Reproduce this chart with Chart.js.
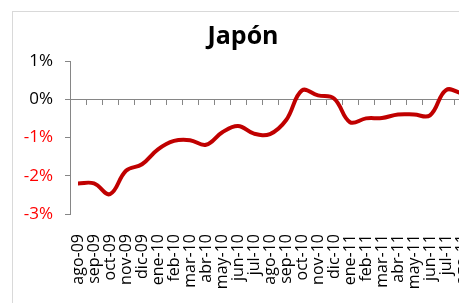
<!DOCTYPE html>
<html><head><meta charset="utf-8">
<script src="https://cdn.jsdelivr.net/npm/chart.js@4"></script>
<style>
html,body{margin:0;padding:0;overflow:hidden;background:#fff;width:459px;height:303px}
#frame{position:absolute;left:12px;top:11px;width:600px;height:400px;border:1px solid #d9d9d9;box-sizing:border-box}
#wrap{position:absolute;left:0;top:0;width:486px;height:303px}
</style></head>
<body><div id="frame"></div><div id="wrap"><canvas id="c"></canvas></div>
<script>
const categories = ['ago-09','sep-09','oct-09','nov-09','dic-09','ene-10','feb-10','mar-10','abr-10','may-10','jun-10','jul-10','ago-10','sep-10','oct-10','nov-10','dic-10','ene-11','feb-11','mar-11','abr-11','may-11','jun-11','jul-11','ago-11'];
const japanValues = [-2.20,-2.20,-2.48,-1.87,-1.70,-1.31,-1.09,-1.07,-1.19,-0.87,-0.70,-0.90,-0.91,-0.55,0.23,0.10,0.02,-0.60,-0.50,-0.49,-0.40,-0.40,-0.42,0.24,0.15];
const yMin = -3, yMax = 1, yStep = 1;
const titleText = 'Japón';

const FONT = "'Open Sans', sans-serif";
const AXIS = '#868686';

function fixPad(s) { s.paddingLeft = 0; s.paddingRight = 16; }

new Chart(document.getElementById('c'), {
  type: 'line',
  data: {
    labels: categories,
    datasets: [{
      data: japanValues,
      borderColor: '#C00000',
      borderWidth: 4,
      pointRadius: 0,
      tension: 0.4,
      fill: false,
      xAxisID: 'x',
      yAxisID: 'y'
    }]
  },
  options: {
    responsive: true,
    maintainAspectRatio: false,
    animation: false,
    layout: { padding: 0 },
    plugins: {
      legend: { display: false },
      tooltip: { enabled: false },
      title: {
        display: true,
        text: titleText,
        color: '#000',
        font: { family: FONT, size: 25, weight: 'bold' },
        padding: { top: 22, bottom: 9 }
      }
    },
    scales: {
      x: {
        type: 'category',
        position: 'bottom',
        offset: true,
        grid: { display: false },
        border: { display: false },
        ticks: {
          autoSkip: false, minRotation: 90, maxRotation: 90, padding: 12,
          color: '#000', font: { family: FONT, size: 16 }
        },
        afterFit(s) { s.height = 89; fixPad(s); }
      },
      x2: {
        type: 'category',
        labels: categories,
        position: { y: 0 },
        offset: true,
        grid: { display: true, drawOnChartArea: false, drawTicks: true, tickLength: 5, color: AXIS, offset: true },
        border: { display: true, color: AXIS, width: 1 },
        ticks: { display: false },
        afterFit(s) { s.height = 0; fixPad(s); }
      },
      y: {
        min: yMin, max: yMax,
        ticks: {
          stepSize: yStep, padding: 12,
          callback: v => v + '%',
          color: ctx => ctx.tick.value < 0 ? '#FF0000' : '#000',
          font: { family: FONT, size: 17 }
        },
        grid: { display: true, drawOnChartArea: false, drawTicks: true, tickLength: 5, color: AXIS },
        border: { display: true, color: AXIS, width: 1 },
        afterFit(s) { s.width = 70; }
      }
    }
  }
});
</script>
</body></html>
